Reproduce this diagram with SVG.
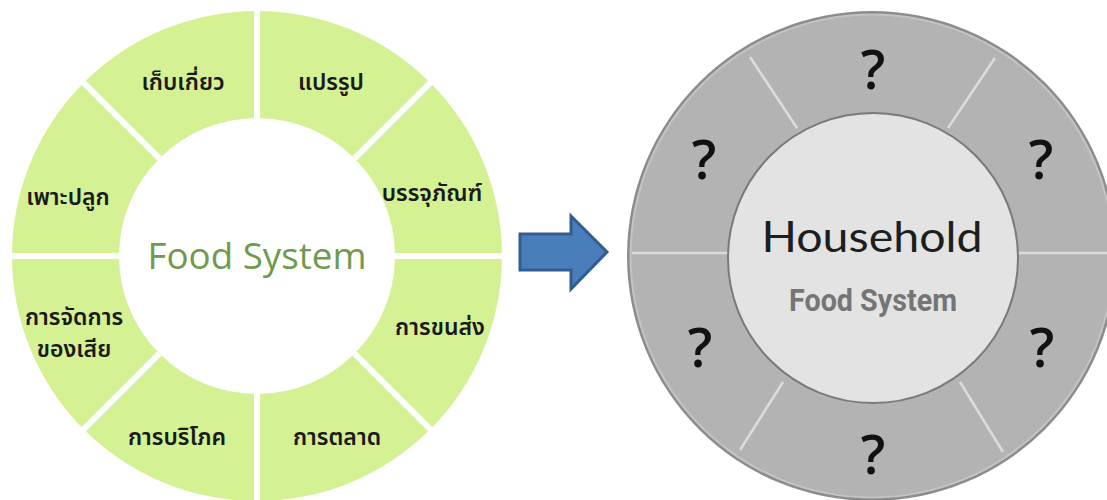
<svg xmlns="http://www.w3.org/2000/svg" width="1107" height="500" viewBox="0 0 1107 500">
<style>
.lbl{font-family:"Noto Sans Thai","Noto Sans","DejaVu Sans",sans-serif;font-size:23px;font-weight:600;fill:#1a1a1a;text-anchor:middle}
.q{font-family:"Open Sans","DejaVu Sans",sans-serif;font-size:54px;font-weight:600;fill:#111;text-anchor:middle}
.gap{stroke:#ffffff;stroke-width:6}
.gline{stroke:#dcdcdc;stroke-width:2.5}
</style>
<rect width="1107" height="500" fill="#ffffff"/>
<g id="left-ring">
<path d="M12,256 A245,245 0 1,1 502,256 A245,245 0 1,1 12,256 Z M119,256 A138,138 0 1,0 395,256 A138,138 0 1,0 119,256 Z" fill="#d4f294" fill-rule="evenodd"/>
<g id="left-dividers">
<line class="gap" x1="257" y1="118" x2="257" y2="8"/>
<line class="gap" x1="257" y1="394" x2="257" y2="504"/>
<line class="gap" x1="119" y1="256" x2="8" y2="256"/>
<line class="gap" x1="395" y1="256" x2="506" y2="256"/>
<line class="gap" x1="159.4" y1="158.4" x2="82.3" y2="81.3"/>
<line class="gap" x1="354.6" y1="158.4" x2="431.7" y2="81.3"/>
<line class="gap" x1="159.4" y1="353.6" x2="82.3" y2="430.7"/>
<line class="gap" x1="354.6" y1="353.6" x2="431.7" y2="430.7"/>
</g>
<text x="257" y="269" font-family="'Open Sans','Noto Sans',sans-serif" font-size="36" fill="#6e9b4c" text-anchor="middle" textLength="219" lengthAdjust="spacingAndGlyphs">Food System</text>
</g>
<g id="n-harvest"><text class="lbl" x="183" y="90">เก็บเกี่ยว</text></g>
<g id="n-process"><text class="lbl" x="331" y="90">แปรรูป</text></g>
<g id="n-package"><text class="lbl" x="432" y="201">บรรจุภัณฑ์</text></g>
<g id="n-transport"><text class="lbl" x="440" y="335">การขนส่ง</text></g>
<g id="n-market"><text class="lbl" x="337" y="445">การตลาด</text></g>
<g id="n-consume"><text class="lbl" x="177" y="445">การบริโภค</text></g>
<g id="n-waste"><text class="lbl" x="74" y="325">การจัดการ</text><text class="lbl" x="74" y="357">ของเสีย</text></g>
<g id="n-plant"><text class="lbl" x="68" y="205">เพาะปลูก</text></g>
<g id="connectors">
<path d="M520,234 L571,234 L571,216 L607,252 L571,289 L571,270 L520,270 Z" fill="#4a7ebb" stroke="#335d8f" stroke-width="3" stroke-linejoin="miter"/>
</g>
<g id="right-ring">
<circle cx="872" cy="256" r="245" fill="#8c8c8c"/>
<circle cx="872" cy="256" r="242.5" fill="#c4c4c4"/>
<circle cx="872" cy="256" r="240.5" fill="#b3b3b3"/>
<g id="right-dividers">
<line class="gline" x1="750" y1="57" x2="797" y2="128"/>
<line class="gline" x1="995" y1="58" x2="948" y2="128"/>
<line class="gline" x1="632" y1="253" x2="728" y2="253"/>
<line class="gline" x1="1016" y1="253" x2="1112" y2="253"/>
<line class="gline" x1="740" y1="450" x2="783" y2="382"/>
<line class="gline" x1="1003" y1="452" x2="960" y2="382"/>
</g>
<circle cx="873" cy="258" r="145" fill="#e3e3e3" stroke="#7a7a7a" stroke-width="2"/>
<text x="872" y="252" font-family="Lato,'Open Sans',sans-serif" font-size="42" fill="#1e1e1e" text-anchor="middle" textLength="221" lengthAdjust="spacingAndGlyphs">Household</text>
<text x="873" y="311" font-family="Roboto,'Liberation Sans',sans-serif" font-size="31" font-weight="bold" fill="#757575" text-anchor="middle" textLength="168" lengthAdjust="spacingAndGlyphs">Food System</text>
</g>
<g id="q-top"><text class="q" x="873" y="89">?</text></g>
<g id="q-ul"><text class="q" x="704" y="179">?</text></g>
<g id="q-ur"><text class="q" x="1041" y="179">?</text></g>
<g id="q-ll"><text class="q" x="700" y="367">?</text></g>
<g id="q-lr"><text class="q" x="1042" y="367">?</text></g>
<g id="q-bot"><text class="q" x="873" y="474">?</text></g>
</svg>
